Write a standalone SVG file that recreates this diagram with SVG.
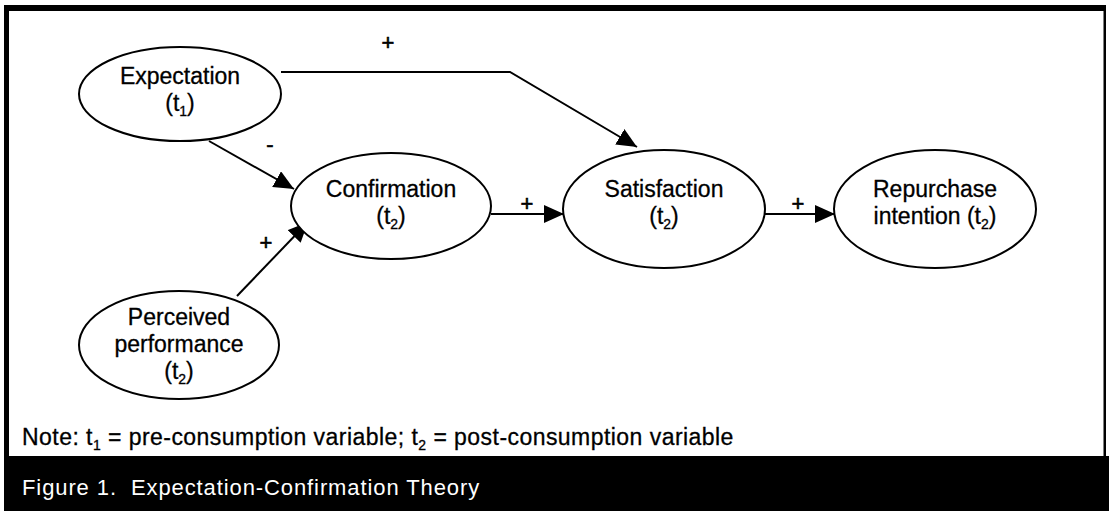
<svg xmlns="http://www.w3.org/2000/svg" width="1109" height="511" viewBox="0 0 1109 511">
<style>
.n{fill:#fff;stroke:#000;stroke-width:2}
.t{font-family:"Liberation Sans",Arial,sans-serif;font-size:23px;fill:#000;text-anchor:middle;stroke:#000;stroke-width:0.3}
.s{font-size:14px}
.c{fill:none;stroke:#000;stroke-width:2}
.l{font-family:"Liberation Sans",Arial,sans-serif;font-size:22px;fill:#000;text-anchor:middle;stroke:#000;stroke-width:0.6}
</style>
<defs>
<marker id="ah" markerWidth="20" markerHeight="18" refX="20" refY="9" orient="auto" markerUnits="userSpaceOnUse">
<path d="M0,0 L20,9 L0,18 Z" fill="#000"/>
</marker>
</defs>
<rect x="0" y="0" width="1109" height="511" fill="#fff"/>
<g id="frame">
<rect x="4" y="5" width="1101" height="6" fill="#000"/>
<rect x="4" y="5" width="5" height="506" fill="#000"/>
<rect x="1103.5" y="5" width="2.5" height="506" fill="#000"/>
<rect x="4" y="456" width="1105" height="55" fill="#000"/>
</g>
<g id="connectors">
<polyline class="c" points="281,72 510,72 637,147" marker-end="url(#ah)"/>
<line class="c" x1="209" y1="141" x2="294" y2="189" marker-end="url(#ah)"/>
<line class="c" x1="237" y1="296" x2="308" y2="222" marker-end="url(#ah)"/>
<line class="c" x1="491" y1="214" x2="564" y2="214" marker-end="url(#ah)"/>
<line class="c" x1="764" y1="214" x2="835" y2="214" marker-end="url(#ah)"/>
<text class="l" x="388" y="50">+</text>
<text class="l" x="270" y="152">-</text>
<text class="l" x="527" y="211">+</text>
<text class="l" x="798" y="211">+</text>
<text class="l" x="266" y="250">+</text>
</g>
<g id="expectation">
<ellipse class="n" cx="180" cy="94" rx="101" ry="47"/>
<text class="t" x="180" y="84">Expectation</text>
<text class="t" x="180" y="111">(t<tspan class="s" dy="5">1</tspan><tspan dy="-5">)</tspan></text>
</g>
<g id="confirmation">
<ellipse class="n" cx="391" cy="206" rx="100" ry="53"/>
<text class="t" x="391" y="197">Confirmation</text>
<text class="t" x="391" y="224">(t<tspan class="s" dy="5">2</tspan><tspan dy="-5">)</tspan></text>
</g>
<g id="satisfaction">
<ellipse class="n" cx="664" cy="209" rx="101" ry="59"/>
<text class="t" x="664" y="197">Satisfaction</text>
<text class="t" x="664" y="224">(t<tspan class="s" dy="5">2</tspan><tspan dy="-5">)</tspan></text>
</g>
<g id="repurchase">
<ellipse class="n" cx="935" cy="209" rx="101" ry="59"/>
<text class="t" x="935" y="197">Repurchase</text>
<text class="t" x="935" y="224">intention (t<tspan class="s" dy="5">2</tspan><tspan dy="-5">)</tspan></text>
</g>
<g id="perceived">
<ellipse class="n" cx="179" cy="345" rx="100" ry="54"/>
<text class="t" x="179" y="325">Perceived</text>
<text class="t" x="179" y="352">performance</text>
<text class="t" x="179" y="379">(t<tspan class="s" dy="5">2</tspan><tspan dy="-5">)</tspan></text>
</g>
<g id="note">
<text x="22" y="445" font-family="'Liberation Sans',Arial,sans-serif" font-size="23" letter-spacing="0.45" fill="#000" stroke="#000" stroke-width="0.3">Note: t<tspan font-size="14" dy="5">1</tspan><tspan dy="-5"> = pre-consumption variable; t</tspan><tspan font-size="14" dy="5">2</tspan><tspan dy="-5"> = post-consumption variable</tspan></text>
</g>
<g id="caption">
<text x="22" y="495" font-family="'Liberation Sans',Arial,sans-serif" font-size="22" letter-spacing="0.9" fill="#fff" xml:space="preserve">Figure 1.  Expectation-Confirmation Theory</text>
</g>
</svg>
